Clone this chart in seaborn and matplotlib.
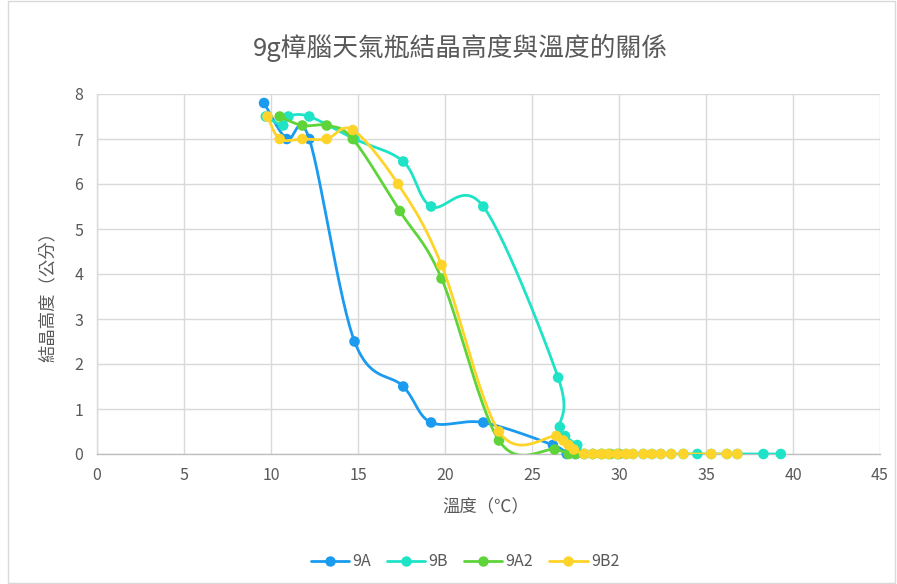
import numpy as np
import pandas as pd
import matplotlib
matplotlib.use("Agg")
import matplotlib.pyplot as plt
from matplotlib.lines import Line2D
from matplotlib.patches import Rectangle
import seaborn as sns

# ---------------- data ----------------
series_names = ["9A", "9B", "9A2", "9B2"]

x_9A = [9.6, 10.9, 12.2, 14.8, 17.6, 19.2, 22.2, 26.2, 27.0, 27.5]
y_9A = [7.8, 7.0, 7.0, 2.5, 1.5, 0.7, 0.7, 0.2, 0.0, 0.0]

x_9B = [9.7, 10.7, 11.0, 12.2, 14.8, 17.6, 19.2, 22.2, 26.5, 26.6, 26.9, 27.6,
        28.0, 28.5, 29.0, 29.4, 29.9, 30.4, 30.8, 31.4, 31.9, 32.4, 33.0, 33.7,
        34.5, 35.3, 36.2, 36.8, 38.3, 39.3]
y_9B = [7.5, 7.3, 7.5, 7.5, 7.0, 6.5, 5.5, 5.5, 1.7, 0.6, 0.4, 0.2,
        0.0, 0.0, 0.0, 0.0, 0.0, 0.0, 0.0, 0.0, 0.0, 0.0, 0.0, 0.0,
        0.0, 0.0, 0.0, 0.0, 0.0, 0.0]

x_9A2 = [10.5, 11.8, 13.2, 14.7, 17.4, 19.8, 23.1, 26.3, 27.1, 27.5, 28.0,
         28.5, 29.0, 29.5, 30.0]
y_9A2 = [7.5, 7.3, 7.3, 7.0, 5.4, 3.9, 0.3, 0.1, 0.0, 0.0, 0.0,
         0.0, 0.0, 0.0, 0.0]

x_9B2 = [9.8, 10.5, 11.8, 13.2, 14.7, 17.3, 19.8, 23.1, 26.4, 26.8, 27.1, 27.4,
         28.0, 28.5, 29.0, 29.4, 29.9, 30.4, 30.8, 31.4, 31.9, 32.4, 33.0, 33.7,
         35.3, 36.2, 36.8]
y_9B2 = [7.5, 7.0, 7.0, 7.0, 7.2, 6.0, 4.2, 0.5, 0.4, 0.3, 0.2, 0.1,
         0.0, 0.0, 0.0, 0.0, 0.0, 0.0, 0.0, 0.0, 0.0, 0.0, 0.0, 0.0,
         0.0, 0.0, 0.0]

x_ticks = [0, 5, 10, 15, 20, 25, 30, 35, 40, 45]
y_ticks = [0, 1, 2, 3, 4, 5, 6, 7, 8]

title_text = "9g樟腦天氣瓶結晶高度與溫度的關係"
x_label = "溫度（℃）"
y_label = "結晶高度（公分）"

colors = ["#1A9BF0", "#1FE3C6", "#5ED43A", "#FFD42A"]

# ---------------- styling ----------------
sns.set_theme(style="white")
plt.rcParams["font.family"] = ["Noto Sans CJK TC", "DejaVu Sans"]
TXT = "#595959"
GRID = "#D9D9D9"

W, H = 897, 584
fig = plt.figure(figsize=(W / 100, H / 100), dpi=100)
L, R, T, B = 97, 880, 94, 454
ax = fig.add_axes([L / W, 1 - B / H, (R - L) / W, (B - T) / H])
ax.set_xlim(0, 45)
ax.set_ylim(0, 8)

sx = (R - L) / 45.0
sy = (B - T) / 8.0


def smooth(xs, ys, n=30):
    """Excel-like smoothed line (Catmull-Rom Bezier in pixel space)."""
    P = np.column_stack([np.asarray(xs) * sx, np.asarray(ys) * sy])
    out = [P[0]]
    m = len(P)
    t = np.linspace(0, 1, n)[1:, None]
    for i in range(m - 1):
        p0 = P[i - 1] if i > 0 else P[i]
        p1 = P[i]
        p2 = P[i + 1]
        p3 = P[i + 2] if i + 2 < m else P[i + 1]
        c1 = p1 + (p2 - p0) / 6.0
        c2 = p2 - (p3 - p1) / 6.0
        seg = ((1 - t) ** 3) * p1 + 3 * ((1 - t) ** 2) * t * c1 + 3 * (1 - t) * t ** 2 * c2 + t ** 3 * p2
        out.extend(seg)
    out = np.array(out)
    return out[:, 0] / sx, out[:, 1] / sy


all_x = [x_9A, x_9B, x_9A2, x_9B2]
all_y = [y_9A, y_9B, y_9A2, y_9B2]

for k, (name, xs, ys, c) in enumerate(zip(series_names, all_x, all_y, colors)):
    cx, cy = smooth(xs, ys)
    df_line = pd.DataFrame({"x": cx, "y": cy})
    sns.lineplot(data=df_line, x="x", y="y", sort=False, estimator=None,
                 color=c, lw=2.0, ax=ax, legend=False, zorder=3 + 2 * k)
    df_pts = pd.DataFrame({"x": xs, "y": ys})
    sns.scatterplot(data=df_pts, x="x", y="y", color=c, s=58, linewidth=0,
                    edgecolor="none", ax=ax, legend=False, zorder=4 + 2 * k,
                    clip_on=False)

ax.set_xticks(x_ticks)
ax.set_yticks(y_ticks)
ax.set_xticklabels([str(v) for v in x_ticks])
ax.set_yticklabels([str(v) for v in y_ticks])
ax.tick_params(axis="both", length=0, labelsize=11.5, labelcolor=TXT)
ax.tick_params(axis="x", pad=9)
ax.tick_params(axis="y", pad=10)
ax.grid(True, color=GRID, lw=1)
ax.set_axisbelow(True)
for s in ["top", "right"]:
    ax.spines[s].set_visible(False)
ax.spines["left"].set_color(GRID)
ax.spines["bottom"].set_color("#BFBFBF")
ax.spines["left"].set_linewidth(1)
ax.spines["bottom"].set_linewidth(1)
ax.set_xlabel("")
ax.set_ylabel("")

fig.text(460 / W, 1 - 48 / H, title_text, ha="center", va="center",
         fontsize=18.5, color=TXT)
fig.text(486 / W, 1 - 507 / H, x_label, ha="center", va="center",
         fontsize=12.5, color=TXT)
fig.text(48 / W, 1 - 292 / H, y_label, ha="center", va="center",
         rotation=90, fontsize=12.5, color=TXT)

handles = [Line2D([0], [0], color=c, lw=2.0, marker="o", markersize=7.5,
                  markeredgewidth=0) for c in colors]
fig.legend(handles, series_names, loc="center", ncol=4,
           bbox_to_anchor=(465 / W, 1 - 562 / H), frameon=False,
           fontsize=11.5, labelcolor=TXT, handlelength=2.4, columnspacing=1.0,
           handletextpad=0.2)

fig.patches.append(Rectangle((8 / W, 0.001), 1 - 8 / W - 0.002, 0.997,
                             transform=fig.transFigure, fill=False,
                             ec=GRID, lw=1))

fig.savefig("out.png", dpi=100)
